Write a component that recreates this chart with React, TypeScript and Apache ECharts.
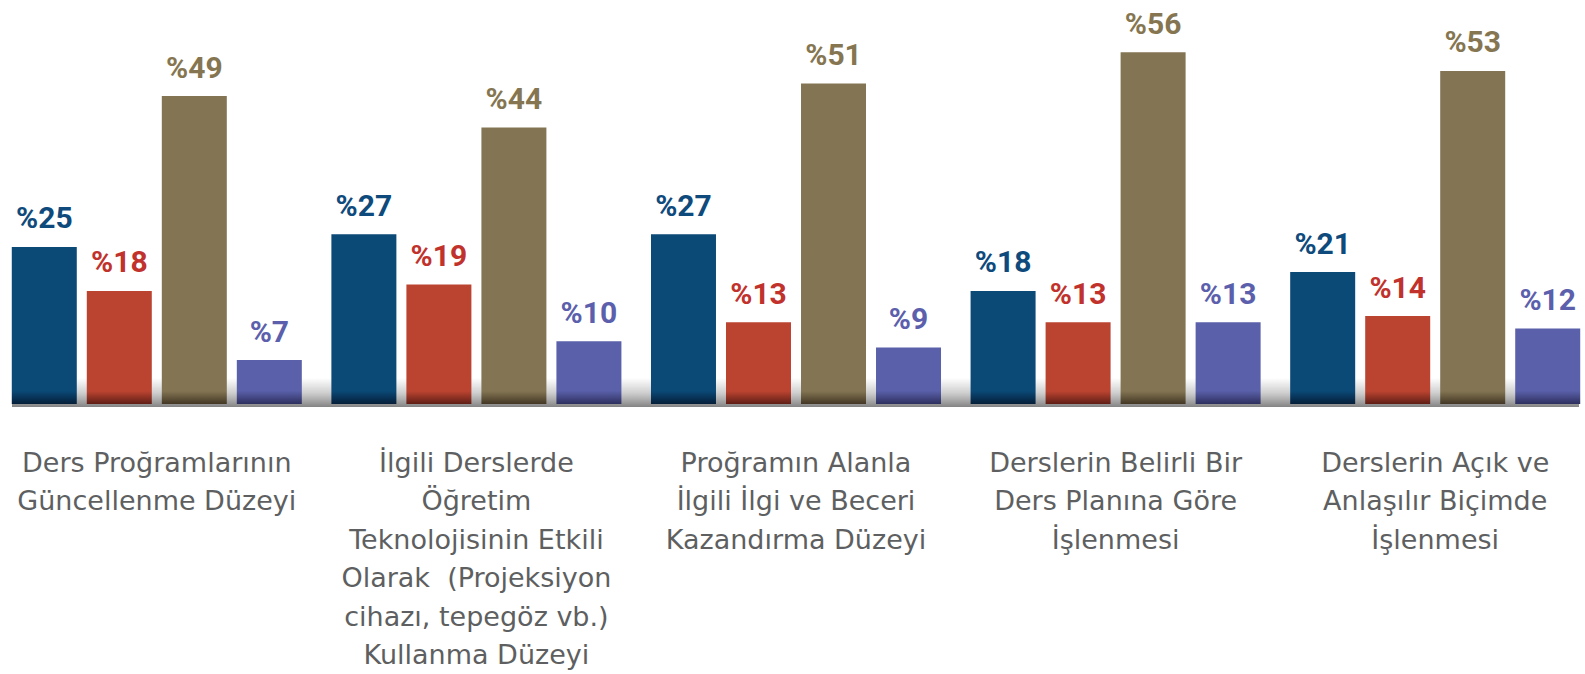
import React, { useEffect, useRef } from "react";
import * as echarts from "echarts";

const categories = [
  "Ders Proğramlarının\nGüncellenme Düzeyi",
  "İlgili Derslerde\nÖğretim\nTeknolojisinin Etkili\nOlarak  (Projeksiyon\ncihazı, tepegöz vb.)\nKullanma Düzeyi",
  "Proğramın Alanla\nİlgili İlgi ve Beceri\nKazandırma Düzeyi",
  "Derslerin Belirli Bir\nDers Planına Göre\nİşlenmesi",
  "Derslerin Açık ve\nAnlaşılır Biçimde\nİşlenmesi",
];

const seriesA = [25, 27, 27, 18, 21];
const seriesB = [18, 19, 13, 13, 14];
const seriesC = [49, 44, 51, 56, 53];
const seriesD = [7, 10, 9, 13, 12];

const barColors = ["#0b4977", "#bb4431", "#837553", "#5a60a9"];
const darkColors = ["#03142a", "#4a150f", "#34291a", "#23244c"];
const labelColors = ["#0f4a7c", "#c0322b", "#857651", "#5b5fac"];

export default function App() {
  const ref = useRef<HTMLDivElement>(null);
  useEffect(() => {
    const chart = echarts.init(ref.current!, undefined, { renderer: "svg" });
    const datasets = [seriesA, seriesB, seriesC, seriesD];
    const series = datasets.map((d, i) => ({
      type: "bar",
      data: d,
      barWidth: 65,
      barGap: "15.4%",
      itemStyle: {
        color: {
          type: "linear",
          x: 0,
          y: 378,
          x2: 0,
          y2: 407,
          global: true,
          colorStops: [
            { offset: 0, color: barColors[i] },
            { offset: 0.45, color: barColors[i] },
            { offset: 1, color: darkColors[i] },
          ],
        },
      },
      label: {
        show: true,
        position: "top",
        distance: 14,
        formatter: "%{c}",
        color: labelColors[i],
        fontFamily: "Roboto",
        fontWeight: "bold",
        fontSize: 30,
      },
      z: 3,
    }));
    chart.setOption({
      animation: false,
      backgroundColor: "#ffffff",
      grid: { left: 0, right: 0, top: 27, bottom: 267 },
      xAxis: {
        type: "category",
        data: categories,
        axisLine: { show: false },
        axisTick: { show: false },
        axisLabel: {
          interval: 0,
          margin: 39,
          color: "#5e5f61",
          fontFamily: "DejaVu Sans",
          fontSize: 27,
          lineHeight: 38.5,
          align: "center",
        },
      },
      yAxis: {
        type: "value",
        min: 0,
        max: 60,
        show: false,
        splitLine: { show: false },
      },
      graphic: [
        {
          type: "rect",
          z: 0,
          shape: { x: 15, y: 378, width: 1567, height: 29 },
          style: {
            fill: {
              type: "linear",
              x: 0,
              y: 0,
              x2: 0,
              y2: 1,
              colorStops: [
                { offset: 0, color: "rgba(120,120,120,0)" },
                { offset: 0.5, color: "rgba(120,120,120,0.35)" },
                { offset: 1, color: "rgba(100,100,100,0.8)" },
              ],
            },
          },
        },
      ],
      series,
    });
    return () => chart.dispose();
  }, []);
  return (
    <div
      style={{ position: "absolute", left: 0, top: 0, width: 1585, height: 674, overflow: "hidden", background: "#fff" }}
    >
      <div
        ref={ref}
        style={{ position: "absolute", left: -3, top: 0, width: 1598, height: 674 }}
      />
    </div>
  );
}
